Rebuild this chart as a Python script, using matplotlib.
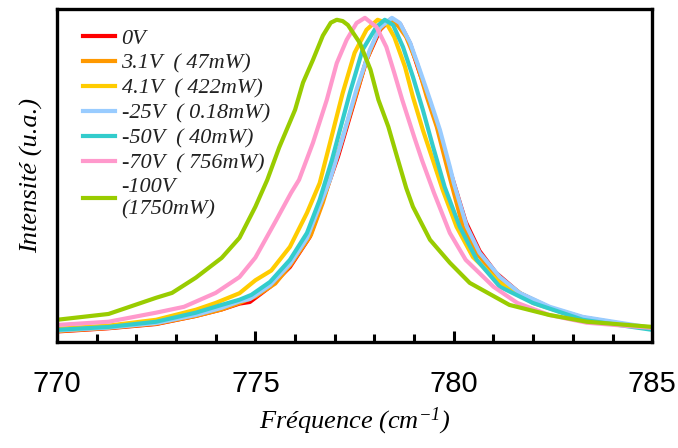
import matplotlib
matplotlib.use("Agg")
import matplotlib.pyplot as plt
from matplotlib.ticker import MultipleLocator

plt.rcParams['mathtext.fontset'] = 'custom'
plt.rcParams['mathtext.rm'] = 'Liberation Serif:italic'
plt.rcParams['mathtext.it'] = 'Liberation Serif:italic'

labels = ["0V", "3.1V  ( 47mW)", "4.1V  ( 422mW)", "-25V  ( 0.18mW)",
          "-50V  ( 40mW)", "-70V  ( 756mW)", "-100V\n(1750mW)"]
colors = ["#FF0000", "#FF9900", "#FFCC00", "#99CCFF", "#33CCCC", "#FF99CC", "#99CC00"]

red_x = [770, 771.3, 772.5, 773.5, 774.15, 774.6, 774.86, 775.37, 775.87, 776.37, 776.7, 777.08,
         777.43, 777.8, 778.14, 778.4, 778.65, 778.9, 779.14, 779.4, 779.65, 779.9, 780.3, 780.65,
         781.06, 781.66, 782.42, 783.25, 785]
red_y = [0.032, 0.042, 0.055, 0.08, 0.10, 0.118, 0.123, 0.17, 0.231, 0.324, 0.438, 0.571,
         0.716, 0.87, 0.963, 0.995, 0.98, 0.92, 0.83, 0.74, 0.64, 0.53, 0.37, 0.28,
         0.213, 0.15, 0.105, 0.075, 0.04]

orange_x = [770, 771.3, 772.5, 773.5, 774.15, 774.6, 775.0, 775.5, 775.9, 776.4, 776.7, 777.0,
            777.4, 777.8, 778.1, 778.4, 778.6, 778.8, 779.07, 779.32, 779.57, 779.85, 780.23,
            780.6, 781.1, 781.7, 782.42, 783.25, 785]
orange_y = [0.033, 0.043, 0.056, 0.08, 0.10, 0.12, 0.14, 0.18, 0.24, 0.33, 0.43, 0.55,
            0.71, 0.87, 0.96, 0.995, 0.975, 0.941, 0.861, 0.756, 0.664, 0.53, 0.355,
            0.27, 0.2, 0.148, 0.105, 0.075, 0.04]

yellow_x = [770, 771.3, 772.5, 773.5, 774.0, 774.6, 775.0, 775.4, 775.87, 776.3, 776.62, 776.88,
            777.2, 777.5, 777.8, 778.08, 778.3, 778.5, 778.77, 778.97, 779.22, 779.47, 779.72,
            780.07, 780.48, 781.16, 782.0, 783.25, 785]
yellow_y = [0.04, 0.05, 0.068, 0.099, 0.12, 0.15, 0.19, 0.22, 0.293, 0.398, 0.49, 0.614,
            0.768, 0.892, 0.963, 0.994, 0.984, 0.941, 0.849, 0.756, 0.654, 0.562, 0.469,
            0.355, 0.262, 0.182, 0.12, 0.07, 0.04]

lightblue_x = [770, 771.3, 772.5, 773.5, 774.15, 774.6, 774.86, 775.37, 775.87, 776.3, 776.62,
               776.88, 777.2, 777.55, 777.88, 778.14, 778.44, 778.64, 778.9, 779.14, 779.4,
               779.65, 779.9, 780.0, 780.33, 780.65, 781.16, 781.66, 782.42, 783.25, 785]
lightblue_y = [0.035, 0.044, 0.058, 0.083, 0.105, 0.125, 0.132, 0.175, 0.24, 0.32, 0.42,
               0.50, 0.63, 0.78, 0.90, 0.97, 1.0, 0.984, 0.923, 0.84, 0.747,
               0.654, 0.54, 0.49, 0.355, 0.275, 0.2, 0.151, 0.108, 0.077, 0.043]

cyan_x = [770, 771.3, 772.5, 773.5, 774.15, 774.6, 774.9, 775.37, 775.87, 776.3, 776.62, 776.93,
          777.38, 777.7, 778.05, 778.26, 778.47, 778.72, 778.97, 779.22, 779.47, 779.77, 780.15,
          780.58, 781.16, 781.99, 783.25, 785]
cyan_y = [0.037, 0.046, 0.062, 0.09, 0.114, 0.13, 0.145, 0.185, 0.253, 0.336, 0.438, 0.562,
          0.768, 0.901, 0.972, 0.994, 0.978, 0.91, 0.818, 0.716, 0.605, 0.478, 0.355,
          0.253, 0.17, 0.12, 0.068, 0.037]

pink_x = [770, 771.3, 772.5, 773.2, 774.0, 774.6, 775.0, 775.5, 775.9, 776.1, 776.45, 776.8,
          777.05, 777.3, 777.55, 777.76, 778.05, 778.3, 778.5, 778.7, 779.0, 779.2, 779.5,
          779.9, 780.3, 781.0, 781.6, 782.4, 783.35, 785]
pink_y = [0.052, 0.062, 0.09, 0.108, 0.151, 0.20, 0.26, 0.37, 0.46, 0.50, 0.614, 0.747,
          0.86, 0.932, 0.984, 1.0, 0.972, 0.91, 0.83, 0.747, 0.633, 0.56, 0.46,
          0.336, 0.253, 0.17, 0.12, 0.083, 0.059, 0.043]

green_x = [770, 771.3, 772.5, 772.9, 773.5, 774.15, 774.6, 775.0, 775.3, 775.6, 776.0, 776.2,
           776.45, 776.7, 776.9, 777.05, 777.2, 777.33, 777.63, 777.9, 778.1, 778.35, 778.57,
           778.8, 778.97, 779.4, 779.9, 780.4, 781.4, 782.4, 783.35, 785]
green_y = [0.068, 0.086, 0.136, 0.151, 0.198, 0.259, 0.321, 0.417, 0.50, 0.60, 0.716, 0.80,
           0.87, 0.945, 0.985, 0.994, 0.99, 0.978, 0.923, 0.84, 0.747, 0.664, 0.571,
           0.475, 0.417, 0.315, 0.244, 0.182, 0.114, 0.083, 0.062, 0.046]

series_x = [red_x, orange_x, yellow_x, lightblue_x, cyan_x, pink_x, green_x]
series_y = [red_y, orange_y, yellow_y, lightblue_y, cyan_y, pink_y, green_y]

xticks = [770, 775, 780, 785]

fig = plt.figure(figsize=(6.78, 4.48), dpi=100)
ax = fig.add_axes([0.084, 0.237, 0.878, 0.742])

for xs, ys, c, lab in zip(series_x, series_y, colors, labels):
    ax.plot(xs, ys, color=c, lw=3.0, label=lab, solid_joinstyle='round')

ax.set_xlim(770, 785)
ax.set_ylim(0, 1.026)
ax.set_xticks(xticks)
ax.set_xticklabels([str(t) for t in xticks], family='Liberation Sans', fontsize=21)
ax.xaxis.set_minor_locator(MultipleLocator(1))
ax.tick_params(axis='x', which='major', direction='in', length=8, width=2.2, pad=20)
ax.tick_params(axis='x', which='minor', direction='in', length=6, width=2.2)
ax.set_yticks([])
for s in ax.spines.values():
    s.set_linewidth(2.4)

ax.set_ylabel("Intensité (u.a.)", family='Liberation Serif', style='italic', fontsize=19, labelpad=10)
ax.set_xlabel("Fréquence (cm$^{-1}$)", family='Liberation Serif', style='italic', fontsize=19, labelpad=6)

leg = ax.legend(loc='upper left', frameon=False, prop={'family': 'Liberation Serif', 'style': 'italic', 'size': 16},
                handlelength=1.45, handletextpad=0.3, labelspacing=0.2, borderaxespad=0.3,
                bbox_to_anchor=(0.017, 0.99))
for t in leg.get_texts():
    t.set_color('#222222')

fig.savefig("out.png", dpi=100)
